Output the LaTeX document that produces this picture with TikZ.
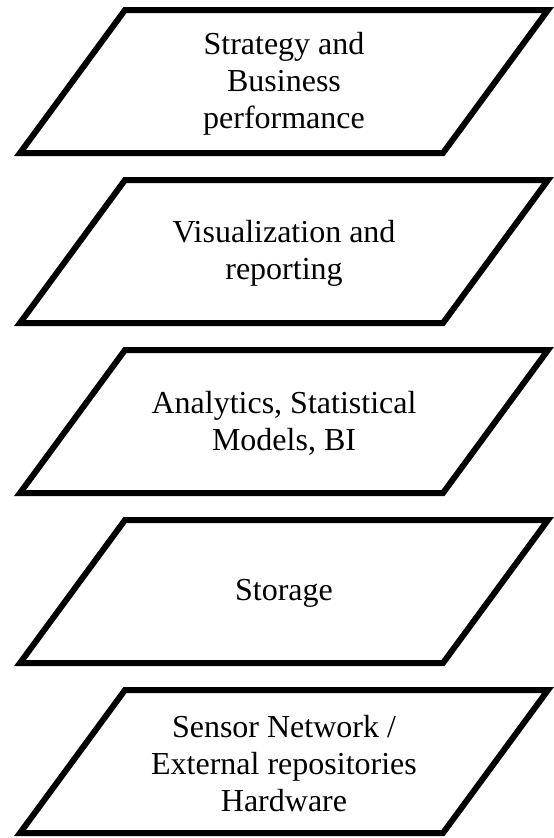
\documentclass[tikz,border=0pt]{standalone}
\usepackage{fontspec}
\setmainfont{Liberation Serif}
\begin{document}
\begin{tikzpicture}[x=1pt,y=-1pt,
  layerbox/.style={line width=6pt,line join=miter,draw=black},
  layertext/.style={align=center,font=\fontsize{32}{37}\selectfont,inner sep=0pt}]
\useasboundingbox (0,0) rectangle (554,838);
% five stacked parallelogram layers, top to bottom
\foreach \i/\txt in {0/{Strategy and\\Business\\performance},
                     1/{Visualization and\\reporting},
                     2/{Analytics, Statistical\\Models, BI},
                     3/{Storage},
                     4/{Sensor Network /\\External repositories\\Hardware}}{
  \pgfmathsetmacro{\t}{10+170*\i}
  \pgfmathsetmacro{\b}{153+170*\i}
  \draw[layerbox] (125,\t) -- (548,\t) -- (443,\b) -- (20,\b) -- cycle;
  \node[layertext] (layer\i) at (284,{(\t+\b)/2+2}) {\txt};
}
\end{tikzpicture}
\end{document}
